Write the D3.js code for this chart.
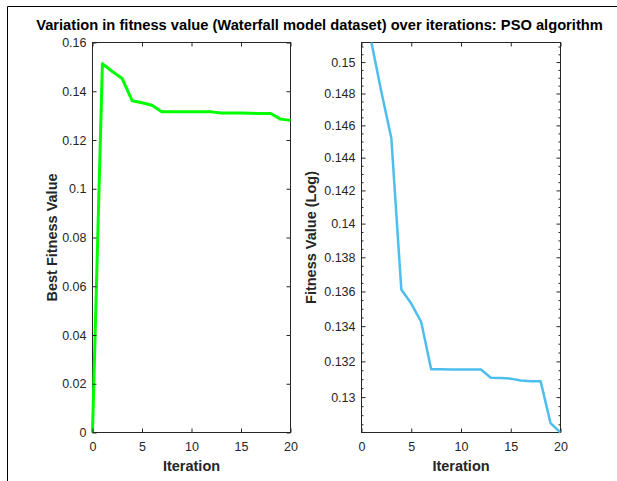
<!DOCTYPE html>
<html>
<head>
<meta charset="utf-8">
<script src="https://cdn.jsdelivr.net/npm/d3@7"></script>
<style>
  body { margin: 0; background: #fff; }
  text { font-family: "Liberation Sans", Arial, sans-serif; fill: #262626; }
</style>
</head>
<body>
<div id="chart"></div>
<script>
// data
const iterations = d3.range(0, 21);
const bestFitness = [0, 0.15126, 0.1481, 0.1452, 0.13612, 0.1353, 0.13424, 0.13155, 0.13155, 0.13154,
  0.13154, 0.13154, 0.13154, 0.13108, 0.13107, 0.13103, 0.13093, 0.13089, 0.13089, 0.12856, 0.12805];
const leftYTicks = [0, 0.02, 0.04, 0.06, 0.08, 0.1, 0.12, 0.14, 0.16];
const rightYTicks = [0.13, 0.132, 0.134, 0.136, 0.138, 0.14, 0.142, 0.144, 0.146, 0.148, 0.15];
const xTicks = [0, 5, 10, 15, 20];
const titleText = "Variation in fitness value (Waterfall model dataset) over iterations: PSO algorithm";

const W = 617, H = 481;
const svg = d3.select("#chart").append("svg")
  .attr("width", W)
  .attr("height", H);

// figure frame (top and left edges only)
svg.append("path")
  .attr("d", "M7.5,481V6.5H617")
  .attr("fill", "none")
  .attr("stroke", "#000")
  .attr("stroke-width", 1);

svg.append("text")
  .attr("x", 319.5)
  .attr("y", 30)
  .attr("text-anchor", "middle")
  .style("font-size", "14.7px")
  .style("font-weight", "bold")
  .style("fill", "#000")
  .text(titleText);

const plotTop = 42.5, plotBottom = 432.5;

function drawPanel(left, right, y, yTicks, yFormat, minorTicks, data, color, lw, ylabel, ylabelX) {
  const g = svg.append("g");
  const x = d3.scaleLinear().domain([0, 20]).range([left, right]);

  // box
  g.append("rect")
    .attr("x", left).attr("y", plotTop)
    .attr("width", right - left).attr("height", plotBottom - plotTop)
    .attr("fill", "none").attr("stroke", "#262626").attr("stroke-width", 1);

  const line = d3.line().x(d => x(d[0])).y(d => y(d[1]));
  g.append("path")
    .datum(data)
    .attr("d", line)
    .attr("fill", "none")
    .attr("stroke", color)
    .attr("stroke-width", lw)
    .attr("stroke-linejoin", "round");

  // inward ticks on all four sides
  g.append("g").attr("transform", `translate(0,${plotBottom})`)
    .call(d3.axisBottom(x).tickValues(xTicks).tickSize(-4).tickPadding(10).tickFormat(d3.format("d")));
  g.append("g").attr("transform", `translate(0,${plotTop})`)
    .call(d3.axisTop(x).tickValues(xTicks).tickSize(-4).tickFormat(""));
  g.append("g").attr("transform", `translate(${left},0)`)
    .call(d3.axisLeft(y).tickValues(yTicks).tickSize(-4).tickPadding(6).tickFormat(yFormat));
  g.append("g").attr("transform", `translate(${right},0)`)
    .call(d3.axisRight(y).tickValues(yTicks).tickSize(-4).tickFormat(""));

  if (minorTicks) {
    g.append("g").attr("transform", `translate(${left},0)`)
      .call(d3.axisLeft(y).tickValues(minorTicks).tickSize(-2).tickFormat(""));
    g.append("g").attr("transform", `translate(${right},0)`)
      .call(d3.axisRight(y).tickValues(minorTicks).tickSize(-2).tickFormat(""));
  }

  g.selectAll(".domain").remove();
  g.selectAll(".tick line").attr("stroke", "#262626");
  g.selectAll("g").attr("font-size", 12.5).attr("font-family", null);
  g.selectAll(".tick text")
    .attr("font-size", 12.5)
    .attr("fill", "#262626");

  g.append("text")
    .attr("x", (left + right) / 2)
    .attr("y", 471)
    .attr("text-anchor", "middle")
    .style("font-size", "14.5px")
    .style("font-weight", "bold")
    .text("Iteration");

  g.append("text")
    .attr("transform", `translate(${ylabelX},${(plotTop + plotBottom) / 2}) rotate(-90)`)
    .attr("text-anchor", "middle")
    .style("font-size", "14.5px")
    .style("font-weight", "bold")
    .text(ylabel);
}

// left panel: linear
const yLin = d3.scaleLinear().domain([0, 0.16]).range([plotBottom, plotTop]);
const leftData = iterations.map((it, i) => [it, bestFitness[i]]);
drawPanel(92.5, 290.5, yLin, leftYTicks, d => d3.format("")(+d.toFixed(2)), null,
  leftData, "#00ff00", 3, "Best Fitness Value", 56.5);

// right panel: log scale, iteration 0 (value 0) cannot be shown
const logData = leftData.filter(d => d[1] > 0);
const yLog = d3.scaleLog()
  .domain([d3.min(logData, d => d[1]), d3.max(logData, d => d[1])])
  .range([plotBottom, plotTop]);
const minor = d3.range(0.1285, 0.1512, 0.0005)
  .map(v => +v.toFixed(4))
  .filter(v => Math.abs(v * 500 - Math.round(v * 500)) > 1e-6);
drawPanel(361.5, 560.5, yLog, rightYTicks, d => d3.format("")(+d.toFixed(3)), minor,
  logData, "#4dbeee", 2.5, "Fitness Value (Log)", 316);
</script>
</body>
</html>
